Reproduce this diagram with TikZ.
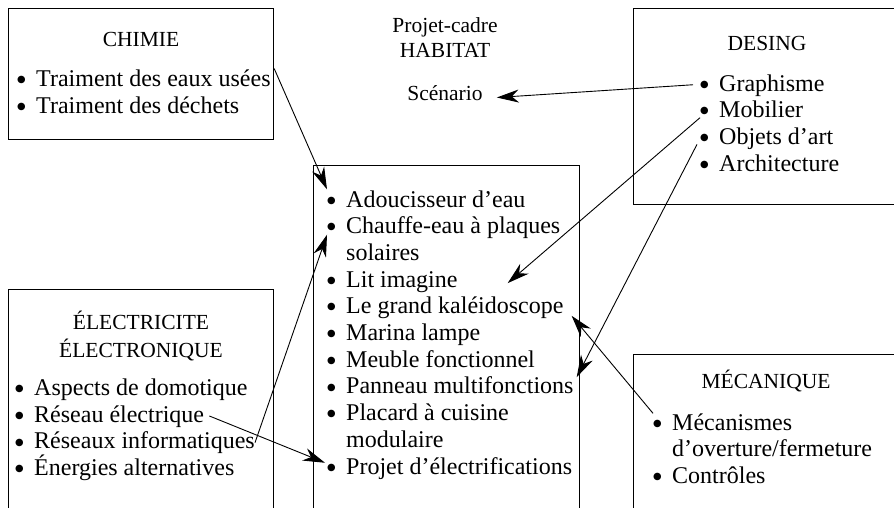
\documentclass[tikz,border=0pt]{standalone}
\usepackage{fontspec}
\setmainfont{Liberation Serif}
\newfontfamily\symfont{DejaVu Sans}
\usetikzlibrary{arrows.meta}
\newcommand{\bul}{\makebox[19pt][l]{\raisebox{3.9pt}{\symfont\fontsize{9.8}{10}\selectfont ●}}}
\begin{document}
\begin{tikzpicture}[x=1pt,y=-1pt,
  box/.style={draw, line width=1.2pt, inner sep=0pt, anchor=north west},
  item/.style={anchor=base west, inner sep=0pt, text height=16.5pt, text depth=4pt, font=\fontsize{24}{26}\selectfont},
  ttl/.style={anchor=base, inner sep=0pt, text height=15pt, text depth=4pt, font=\fontsize{21.5}{26}\selectfont},
  conn/.style={line width=0.9pt, -{Stealth[length=22pt,width=13pt,inset=7pt]}}
]
\useasboundingbox (0,0) rectangle (894,507);
\clip (0,0) rectangle (894,507);

% boxes
\node[box, minimum width=265pt, minimum height=131pt] (chimie) at (8,8) {};
\node[box, minimum width=265pt, minimum height=240pt] (elec) at (8,289) {};
\node[box, minimum width=266pt, minimum height=365pt] (centre) at (313,165) {};
\node[box, minimum width=280pt, minimum height=196pt] (desing) at (633,8) {};
\node[box, minimum width=280pt, minimum height=180pt] (meca) at (633,354) {};

% CHIMIE
\node[ttl] (tchimie) at (141,46) {CHIMIE};
\node[item] (eaux) at (17,86.5) {\bul Traiment des eaux usées};
\node[item] (dechets) at (17,113.2) {\bul Traiment des déchets};

% Projet-cadre
\node[ttl] (projcadre) at (445,32) {Projet-cadre};
\node[ttl] (habitat) at (445,57) {HABITAT};
\node[ttl] (scen) at (445,100) {Scénario};

% DESING
\node[ttl] (tdesing) at (767,50) {DESING};
\node[item] (graph) at (700,91) {\bul Graphisme};
\node[item] (mobil) at (700,117.7) {\bul Mobilier};
\node[item] (objets) at (700,144.4) {\bul Objets d’art};
\node[item] (archi) at (700,171.1) {\bul Architecture};

% ELECTRICITE
\node[ttl] (telec1) at (141,329) {ÉLECTRICITE};
\node[ttl] (telec2) at (141,357) {ÉLECTRONIQUE};
\node[item] (domo) at (15,395.5) {\bul Aspects de domotique};
\node[item] (reselec) at (15,422.2) {\bul Réseau électrique};
\node[item] (resinfo) at (15,448.9) {\bul Réseaux informatiques};
\node[item] (energ) at (15,475.6) {\bul Énergies alternatives};

% centre
\node[item] (adou) at (327,207) {\bul Adoucisseur d’eau};
\node[item] (chauffe) at (327,233.7) {\bul Chauffe-eau à plaques};
\node[item] (solaires) at (346,260.4) {solaires};
\node[item] (lit) at (327,287.1) {\bul Lit imagine};
\node[item] (legrand) at (327,313.8) {\bul Le grand kaléidoscope};
\node[item] (marina) at (327,340.5) {\bul Marina lampe};
\node[item] (meuble) at (327,367.2) {\bul Meuble fonctionnel};
\node[item] (panneau) at (327,393.9) {\bul Panneau multifonctions};
\node[item] (placard) at (327,420.6) {\bul Placard à cuisine};
\node[item] (modul) at (346,447.3) {modulaire};
\node[item] (projet) at (327,474) {\bul Projet d’électrifications};

% MECANIQUE
\node[ttl] (tmeca) at (766,388) {MÉCANIQUE};
\node[item] (mecan) at (653,430) {\bul Mécanismes};
\node[item] (ouvert) at (672,456.7) {d’overture/fermeture};
\node[item] (contr) at (653,483.4) {\bul Contrôles};

% connectors
\draw[conn] ([yshift=5.5pt]chimie.east) -- ([yshift=1pt]adou.north west);
\draw[conn] ([xshift=-7pt]graph.west) -- ([xshift=14pt,yshift=-3pt]scen.east);
\draw[conn] (mobil.base west) -- ([xshift=50pt,yshift=4pt]lit.base east);
\draw[conn] ([xshift=-3pt]objets.base west) -- ([xshift=3pt]panneau.north east);
\draw[conn] (mecan.north west) -- ([xshift=8pt,yshift=-2pt]legrand.base east);
\draw[conn] (resinfo.east) -- ([yshift=-1pt]chauffe.base west);
\draw[conn] ([xshift=5pt]reselec.east) -- ([xshift=-2pt,yshift=5pt]projet.west);
\end{tikzpicture}
\end{document}
